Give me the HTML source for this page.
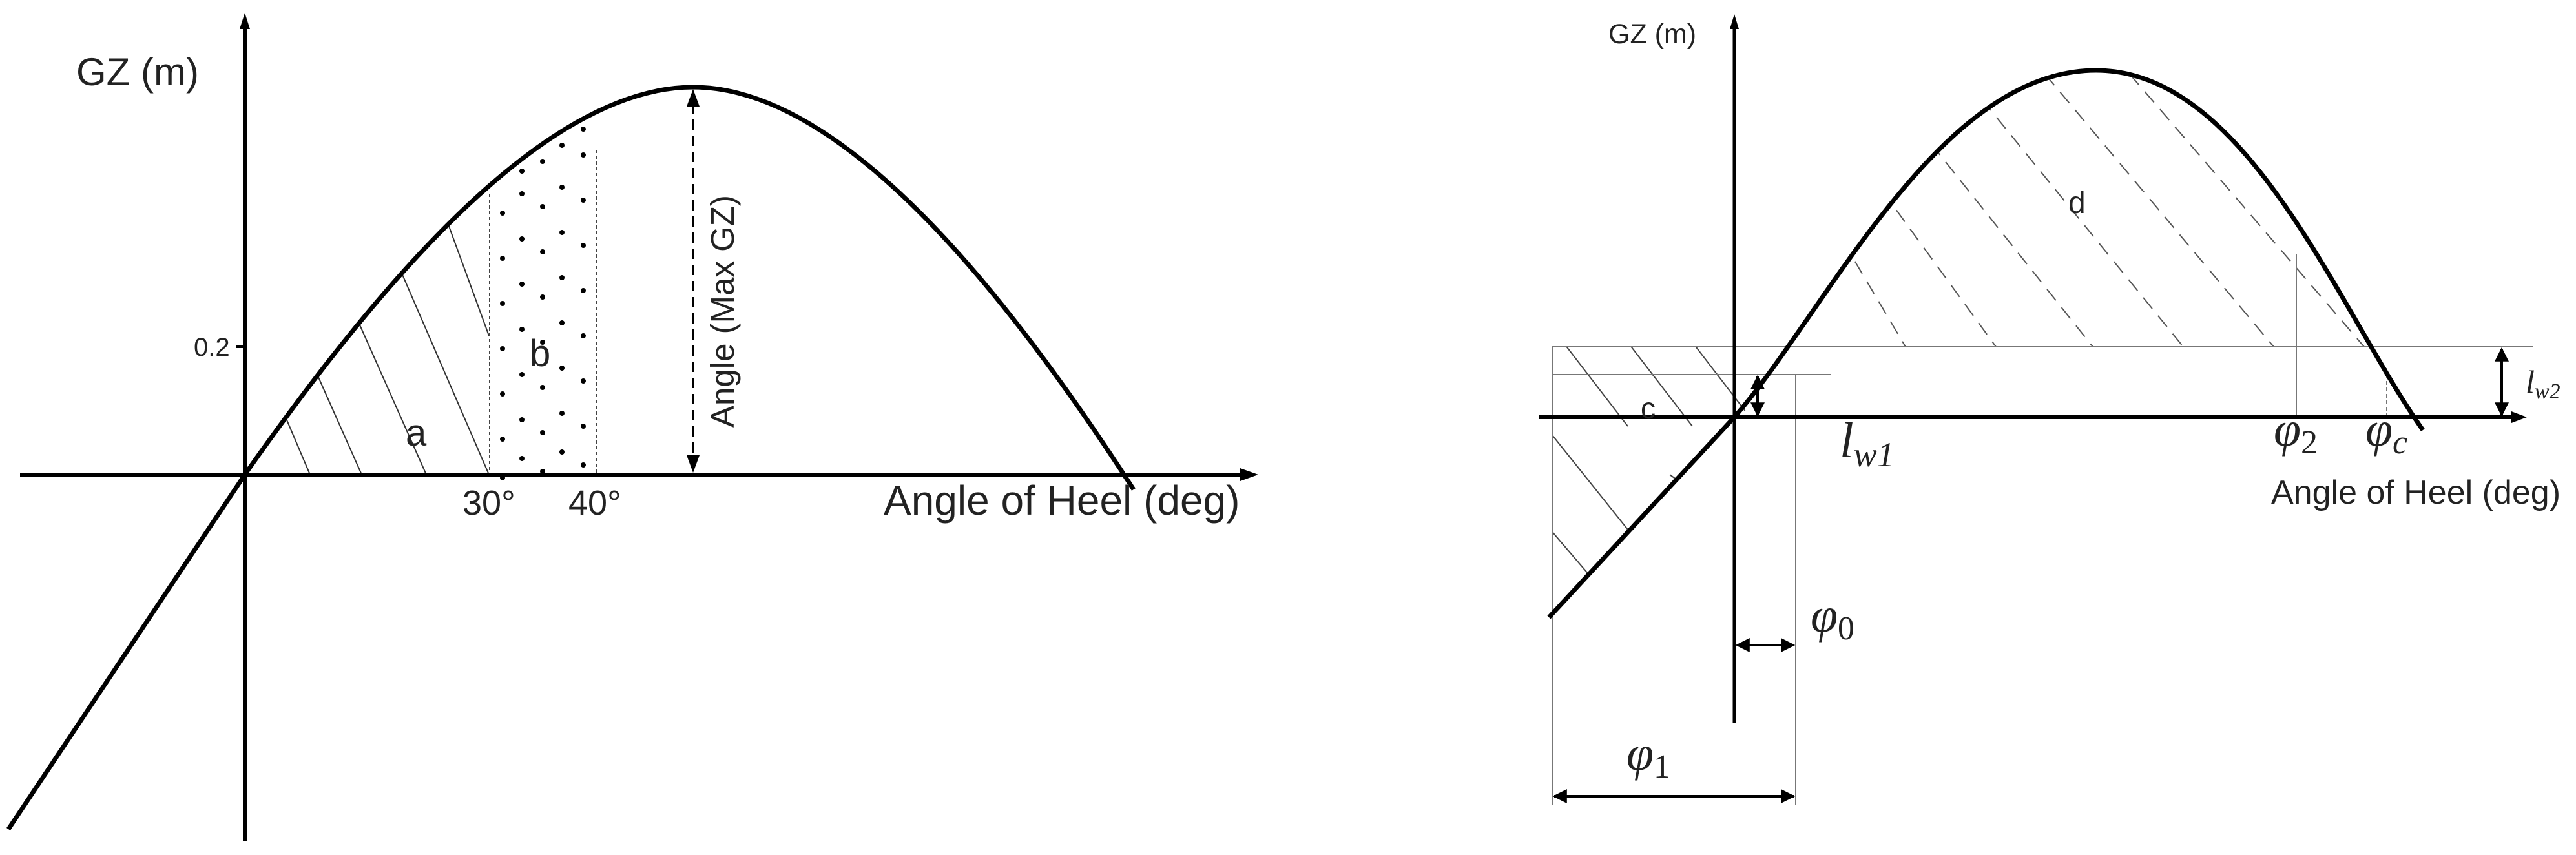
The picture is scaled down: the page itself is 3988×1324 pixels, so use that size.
<!DOCTYPE html>
<html><head><meta charset="utf-8"><style>
html,body{margin:0;padding:0;background:#fff}
svg{display:block}
text{font-family:"Liberation Sans",sans-serif;fill:#222}
.m{font-family:"Liberation Serif",serif;font-style:italic}
</style></head><body>
<svg width="3988" height="1324" viewBox="0 0 3988 1324" xmlns="http://www.w3.org/2000/svg">
<defs>
<marker id="sa" viewBox="0 0 10 10" refX="9" refY="5" markerWidth="22" markerHeight="22" orient="auto-start-reverse" markerUnits="userSpaceOnUse"><path d="M0,0 L10,5 L0,10z" fill="#000"/></marker>
<clipPath id="clA"><path d="M379,735 C600,420 850,135 1073,135 L1073,735z"/></clipPath>
<clipPath id="clD"><path d="M2685,646 C2830,480 3000,109 3245,109 C3480,109 3620,480 3751,666 L3751,537 L2685,537z"/></clipPath>
<clipPath id="clC"><path d="M2403,537 L2860,537 L2685,646 L2398,956 L2403,956z"/></clipPath>
</defs>

<!-- LEFT CHART -->
<g clip-path="url(#clA)">
<g stroke="#333" stroke-width="2">
<line x1="380" y1="500" x2="480" y2="735"/>
<line x1="420" y1="420" x2="560" y2="735"/>
<line x1="480" y1="330" x2="660" y2="735"/>
<line x1="560" y1="280" x2="757" y2="735"/>
<line x1="640" y1="200" x2="757" y2="520"/>
</g>
</g>
<rect x="758" y="270" width="165" height="465" fill="#fff"/>
<g fill="#000">
<g id="dots">
<circle cx="778" cy="330" r="4"/><circle cx="808" cy="300" r="4"/><circle cx="840" cy="320" r="4"/><circle cx="870" cy="290" r="4"/><circle cx="903" cy="310" r="4"/>
</g>
<use href="#dots" y="70"/><use href="#dots" y="140"/><use href="#dots" y="210"/><use href="#dots" y="280"/><use href="#dots" y="350"/><use href="#dots" y="410"/>
</g>
<rect x="740" y="120" width="200" height="150" fill="#fff"/>
<g fill="#000"><circle cx="840" cy="250" r="4"/><circle cx="870" cy="225" r="4"/><circle cx="903" cy="240" r="4"/><circle cx="903" cy="200" r="4"/><circle cx="808" cy="265" r="4"/></g>
<line x1="758" y1="300" x2="758" y2="735" stroke="#444" stroke-width="2" stroke-dasharray="5,4"/>
<line x1="923" y1="232" x2="923" y2="735" stroke="#444" stroke-width="2" stroke-dasharray="5,4"/>
<line x1="379" y1="1302" x2="379" y2="40" stroke="#000" stroke-width="6"/>
<path d="M371,45 L379,20 L387,45z" fill="#000"/>
<line x1="31" y1="735" x2="1925" y2="735" stroke="#000" stroke-width="6"/>
<path d="M1920,725 L1948,735 L1920,745z" fill="#000"/>
<path d="M13,1284 L379,735 C600,420 850,135 1073,135 C1300,135 1550,440 1755,758" fill="none" stroke="#000" stroke-width="7"/>
<line x1="1073" y1="160" x2="1073" y2="710" stroke="#000" stroke-width="3" stroke-dasharray="16,9"/>
<path d="M1063,165 L1073,138 L1083,165z M1063,705 L1073,732 L1083,705z" fill="#000"/>
<line x1="366" y1="537" x2="379" y2="537" stroke="#000" stroke-width="4"/>
<text x="300" y="551" font-size="40">0.2</text>
<text x="118" y="132" font-size="60">GZ (m)</text>
<text x="716" y="797" font-size="54">30°</text>
<text x="880" y="797" font-size="54">40°</text>
<text x="1368" y="797" font-size="64">Angle of Heel (deg)</text>
<text x="628" y="690" font-size="58">a</text>
<text x="820" y="567" font-size="58">b</text>
<text transform="translate(1136,662) rotate(-90)" font-size="51" font-family="DejaVu Sans,sans-serif">Angle (Max GZ)</text>

<!-- RIGHT CHART -->
<g clip-path="url(#clD)" stroke="#555" stroke-width="2" stroke-dasharray="22,14">
<line x1="2780" y1="250" x2="2950" y2="537"/>
<line x1="2830" y1="180" x2="3090" y2="537"/>
<line x1="2900" y1="110" x2="3240" y2="537"/>
<line x1="3000" y1="70" x2="3380" y2="537"/>
<line x1="3120" y1="60" x2="3520" y2="537"/>
<line x1="3250" y1="60" x2="3660" y2="537"/>
<line x1="3380" y1="80" x2="3760" y2="537"/>
</g>
<g clip-path="url(#clC)" stroke="#444" stroke-width="2">
<line x1="2420" y1="530" x2="2520" y2="660"/>
<line x1="2520" y1="530" x2="2620" y2="660"/>
<line x1="2620" y1="530" x2="2720" y2="660"/>
<line x1="2400" y1="670" x2="2560" y2="870"/>
<line x1="2400" y1="820" x2="2520" y2="960"/>
<line x1="2585" y1="735" x2="2620" y2="760"/>
</g>
<g stroke="#777" stroke-width="2" fill="none">
<line x1="2403" y1="537" x2="3921" y2="537"/>
<line x1="2403" y1="580" x2="2835" y2="580"/>
<line x1="2780" y1="580" x2="2780" y2="1246"/>
<line x1="2403" y1="537" x2="2403" y2="1246"/>
<line x1="3555" y1="394" x2="3555" y2="646"/>
<line x1="3695" y1="570" x2="3695" y2="646" stroke-dasharray="6,4"/>
</g>
<line x1="2685" y1="1119" x2="2685" y2="40" stroke="#000" stroke-width="5"/>
<path d="M2678,45 L2685,22 L2692,45z" fill="#000"/>
<line x1="2383" y1="646" x2="3890" y2="646" stroke="#000" stroke-width="6"/>
<path d="M3888,637 L3912,646 L3888,655z" fill="#000"/>
<path d="M2398,956 L2685,646 C2830,480 3000,109 3245,109 C3480,109 3620,480 3751,666" fill="none" stroke="#000" stroke-width="7"/>
<g stroke="#000" stroke-width="4">
<line x1="3873" y1="540" x2="3873" y2="643" marker-start="url(#sa)" marker-end="url(#sa)"/>
<line x1="2721" y1="583" x2="2721" y2="643" marker-start="url(#sa)" marker-end="url(#sa)"/>
<line x1="2689" y1="999" x2="2777" y2="999" marker-start="url(#sa)" marker-end="url(#sa)"/>
<line x1="2406" y1="1233" x2="2777" y2="1233" marker-start="url(#sa)" marker-end="url(#sa)"/>
</g>
<text x="2490" y="67" font-size="43">GZ (m)</text>
<text x="3516" y="780" font-size="52">Angle of Heel (deg)</text>
<text x="2540" y="648" font-size="46">c</text>
<text x="3202" y="330" font-size="48">d</text>
<text class="m" x="2848" y="708" font-size="78">l<tspan font-size="54" dy="14">w1</tspan></text>
<text class="m" x="3520" y="690" font-size="76">φ<tspan font-size="52" dy="12" font-style="normal">2</tspan></text>
<text class="m" x="3662" y="690" font-size="76">φ<tspan font-size="52" dy="12">c</tspan></text>
<text class="m" x="3910" y="608" font-size="50">l<tspan font-size="34" dy="9">w2</tspan></text>
<text class="m" x="2803" y="978" font-size="76">φ<tspan font-size="52" dy="12" font-style="normal">0</tspan></text>
<text class="m" x="2518" y="1192" font-size="76">φ<tspan font-size="52" dy="12" font-style="normal">1</tspan></text>
</svg>
</body></html>
